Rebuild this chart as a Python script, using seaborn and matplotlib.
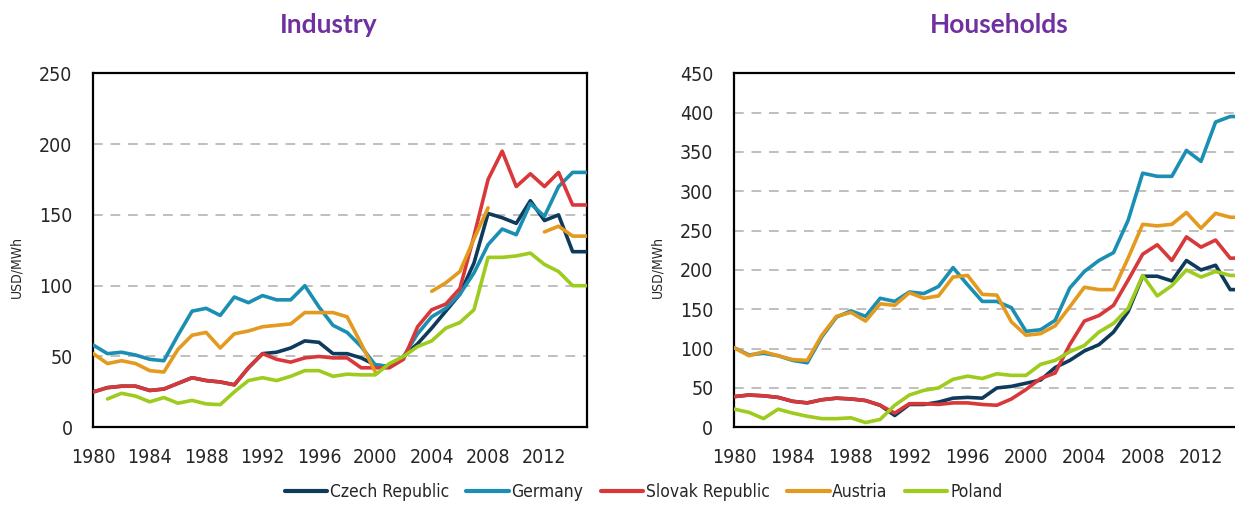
import numpy as np
import pandas as pd
import matplotlib
matplotlib.use('Agg')
import matplotlib.pyplot as plt
from matplotlib.lines import Line2D
import seaborn as sns

years = list(range(1980, 2016))
countries = ['Czech Republic', 'Germany', 'Slovak Republic', 'Austria', 'Poland']
colors = ['#0E3A5C', '#1B8FB3', '#D9383A', '#E39A1E', '#9DCB1E']
nan = np.nan

# Industry, USD/MWh
czech_ind = [25, 28, 29, 29, 26, 27, 31, 35, 33, 32, 30, 42, 52, 53, 56, 61, 60, 52, 52, 49,
             44, 43, 50, 59, 70, 82, 94, 116, 151, 148, 144, 160, 146, 150, 124, 124]
germany_ind = [58, 52, 53, 51, 48, 47, 65, 82, 84, 79, 92, 88, 93, 90, 90, 100, 85, 72, 67, 57,
               44, 43, 50, 66, 78, 84, 94, 109, 129, 140, 136, 158, 149, 170, 180, 180]
slovak_ind = [25, 28, 29, 29, 26, 27, 31, 35, 33, 32, 30, 42, 52, 48, 46, 49, 50, 49, 49, 42,
              42, 42, 48, 71, 83, 87, 98, 135, 175, 195, 170, 179, 170, 180, 157, 157]
austria_ind = [52, 45, 47, 45, 40, 39, 55, 65, 67, 56, 66, 68, 71, 72, 73, 81, 81, 81, 78, 59,
               39, nan, nan, nan, 96, 102, 110, 133, 155, nan, nan, nan, 138, 142, 135, 135]
poland_ind = [nan, 20, 24, 22, 18, 21, 17, 19, 16.5, 16, 25, 33, 35, 33, 36, 40, 40, 36, 37.5, 37,
              37, 45, 50, 57, 61, 70, 74, 83, 120, 120, 121, 123, 115, 110, 100, 100]

# Households, USD/MWh
czech_hh = [39, 41, 40, 38, 33, 31, 35, 37, 36, 34, 28, 15, 29, 29, 32, 37, 38,
            37, 50, 52, 56, 60, 76, 85, 97, 105, 121, 147, 192, 192, 186, 212, 200, 206, 175, 175]
germany_hh = [101, 92, 94, 91, 85, 82, 115, 140, 148, 141, 164, 160, 172, 170, 179, 203, 181,
              160, 160, 152, 122, 124, 136, 177, 198, 212, 222, 263, 323, 319, 319, 352, 338, 388, 395, 395]
slovak_hh = [39, 41, 40, 38, 33, 31, 35, 37, 36, 34, 28, 18, 30, 30, 29, 31, 31,
             29, 28, 36, 48, 62, 69, 105, 135, 142, 155, 187, 220, 232, 212, 242, 229, 238, 215, 215]
austria_hh = [101, 91, 96, 91, 86, 85, 117, 141, 146, 135, 157, 155, 171, 164, 167, 191, 193,
              169, 168, 134, 117, 119, 129, 153, 178, 175, 175, 215, 258, 256, 258, 273, 253, 272, 267, 267]
poland_hh = [23, 19, 11, 23, 18, 14, 11, 11, 12, 6, 10, 28, 41, 47, 50, 61, 65,
             62, 68, 66, 66, 80, 85, 96, 104, 121, 132, 151, 193, 167, 180, 200, 191, 198, 193, 193]

industry = [czech_ind, germany_ind, slovak_ind, austria_ind, poland_ind]
households = [czech_hh, germany_hh, slovak_hh, austria_hh, poland_hh]


def long_form(series_list):
    frames = []
    for name, vals in zip(countries, series_list):
        d = pd.DataFrame({'year': years, 'value': vals})
        d['country'] = name
        # split into contiguous segments so gaps stay gaps
        d['seg'] = d['value'].isna().cumsum()
        d = d.dropna()
        d['seg'] = name + '_' + d['seg'].astype(str)
        frames.append(d)
    return pd.concat(frames, ignore_index=True)


GRID_COLOR = '#BFBFBF'

sns.set_style('white')
plt.rcParams['font.family'] = ['DejaVu Sans']
plt.rcParams['font.stretch'] = 'condensed'

fig = plt.figure(figsize=(12.35, 5.05), dpi=100)
ax1 = fig.add_axes([0.0756, 0.1539, 0.3995, 0.701])
ax2 = fig.add_axes([0.5946, 0.1539, 0.4133, 0.701])


def draw(ax, series_list, ymax, ystep, label_x):
    df = long_form(series_list)
    sns.lineplot(data=df, x='year', y='value', hue='country', units='seg', estimator=None,
                 hue_order=countries, palette=colors, linewidth=2.6, legend=False,
                 ax=ax, zorder=3)
    ax.set_xlim(1980, 2015)
    ax.set_ylim(0, ymax)
    ax.set_xticks(list(range(1980, 2013, 4)))
    ax.set_yticks(list(range(0, ymax + 1, ystep)))
    for yv in range(ystep, ymax, ystep):
        ax.axhline(yv, color=GRID_COLOR, linewidth=1.4, dashes=(5, 4), zorder=1)
    ax.tick_params(axis='both', direction='in', length=6, width=1.5, color='black',
                   labelsize=14, pad=15)
    for sp in ax.spines.values():
        sp.set_color('black')
        sp.set_linewidth(1.6)
    ax.set_xlabel('')
    ax.set_ylabel('USD/MWh', fontsize=10)
    ax.yaxis.set_label_coords(label_x, 0.453)


draw(ax1, industry, 250, 50, -0.141)
draw(ax2, households, 450, 50, -0.137)

fig.text(0.2664, 0.951, 'Industry', ha='center', va='center', fontsize=19,
         fontweight='bold', color='#7030A0', family=['Lato', 'DejaVu Sans'], stretch='normal')
fig.text(0.8089, 0.951, 'Households', ha='center', va='center', fontsize=19,
         fontweight='bold', color='#7030A0', family=['Lato', 'DejaVu Sans'], stretch='normal')

handles = [Line2D([0], [0], color=c, linewidth=3) for c in colors]
fig.legend(handles, countries, loc='center', bbox_to_anchor=(0.521, 0.025), ncol=5,
           frameon=False, fontsize=12.5, handlelength=2.45, handletextpad=0.15,
           columnspacing=1.0)

plt.savefig('out.png', dpi=100)
